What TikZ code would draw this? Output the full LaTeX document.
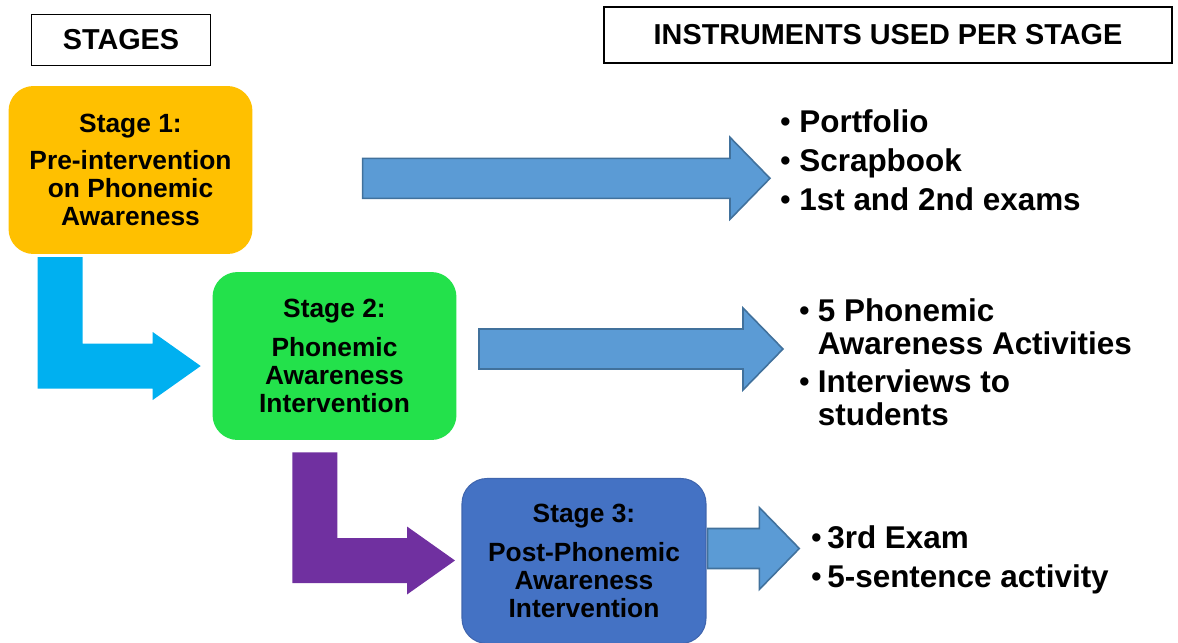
\documentclass[tikz,border=0pt]{standalone}
\usepackage{fontspec}
\setmainfont{Liberation Sans}
\usepackage{xcolor}
\usetikzlibrary{calc}

\definecolor{stageorange}{HTML}{FFC000}
\definecolor{stagegreen}{RGB}{35,225,75}
\definecolor{stageblue}{HTML}{4472C4}
\definecolor{stageblueedge}{HTML}{3F65AE}
\definecolor{elbowcyan}{HTML}{00B0F0}
\definecolor{elbowpurple}{HTML}{7030A0}
\definecolor{arrowblue}{HTML}{5B9BD5}
\definecolor{arrowedge}{HTML}{41719C}

% bullet for the instrument lists
\newcommand{\itm}[1][0.38cm]{\makebox[#1][l]{\raisebox{0.6pt}{\fontsize{16.5}{16.5}\selectfont\textbullet}}}
\newcommand{\cont}[1][0.38cm]{\hspace*{#1}}

% straight block arrow: tail, tip
\newcommand{\blockarrow}[2]{%
  \filldraw[fill=arrowblue, draw=arrowedge, line width=0.9pt]
    ($(#1)+(0,-20)$) -- ($(#2)+(-40,-20)$) -- ($(#2)+(-40,-41)$) -- (#2)
    -- ($(#2)+(-40,41)$) -- ($(#2)+(-40,20)$) -- ($(#1)+(0,20)$) -- cycle;}

% bent block arrow: colour, top left corner, tip
\newcommand{\elbowarrow}[3]{%
  \fill[#1] (#2) -- ($(#2)+(45,0)$) |- ($(#3)+(-48,-22.5)$) -- ($(#3)+(-48,-34)$)
    -- (#3) -- ($(#3)+(-48,34)$) -- ($(#3)+(-48,22.5)$) -| (#2) -- cycle;}

\tikzset{
  header/.style={draw, line width=0.8pt, fill=white, inner sep=0pt,
    font=\fontsize{16.4}{19}\selectfont\bfseries},
  stagebox/.style={rounded corners=0.5cm, minimum width=4.88cm, minimum height=3.36cm,
    align=center, inner sep=0pt, font=\fontsize{15}{15.9}\selectfont\bfseries},
  instr/.style={anchor=west, align=left, inner sep=0pt,
    font=\fontsize{17.9}{18.8}\selectfont\bfseries},
}

\begin{document}
\begin{tikzpicture}[x=0.02cm, y=-0.02cm]
    \useasboundingbox (0,0) rectangle (1178,643);

    \node[header, minimum width=3.58cm, minimum height=1.02cm] (H_stage) at (121,40) {STAGES};
    \node[header, minimum width=11.36cm, minimum height=1.12cm] (H_instr) at (888,35) {INSTRUMENTS USED PER STAGE};

    \node[stagebox, fill=stageorange] (S1) at (130.5,170)
        {Stage 1:\\[5pt]Pre-intervention\\on Phonemic\\Awareness};
    \node[stagebox, fill=stagegreen] (S2) at (334.5,356)
        {Stage 2:\\[6pt]Phonemic\\Awareness\\Intervention};
    \node[stagebox, fill=stageblue, draw=stageblueedge, line width=0.6pt, minimum height=3.3cm] (S3) at (584,561)
        {Stage 3:\\[6pt]Post-Phonemic\\Awareness\\Intervention};

    \node[instr] (I1) at (780,160)
        {\itm Portfolio\\[3.4pt] \itm Scrapbook\\[3.4pt] \itm 1st and 2nd exams};
    \node[instr] (I2) at (799,362)
        {\itm[0.37cm]5 Phonemic\\ \cont[0.37cm]Awareness Activities\\[2.8pt]
         \itm[0.37cm]Interviews to\\ \cont[0.37cm]students};
    \node[instr] (I3) at (811,560)
        {\itm[0.32cm]3rd Exam\\[3.4pt] \itm[0.32cm]5-sentence activity};

    \coordinate (S1_top) at (37.5,257);
    \coordinate (S2_in) at (200.7,366);
    \coordinate (S2_top) at (292.3,452.3);
    \coordinate (S3_in) at (455,560.5);
    \coordinate (A1_tail) at (362.7,178.3);
    \coordinate (A1_tip) at (770,178.3);
    \coordinate (A2_tail) at (479,349);
    \coordinate (A2_tip) at (783,349);
    \coordinate (A3_tail) at (707.7,548.5);
    \coordinate (A3_tip) at (799.3,548.5);

    \elbowarrow{elbowcyan}{S1_top}{S2_in}
    \elbowarrow{elbowpurple}{S2_top}{S3_in}
    \blockarrow{A1_tail}{A1_tip}
    \blockarrow{A2_tail}{A2_tip}
    \blockarrow{A3_tail}{A3_tip}
\end{tikzpicture}
\end{document}
